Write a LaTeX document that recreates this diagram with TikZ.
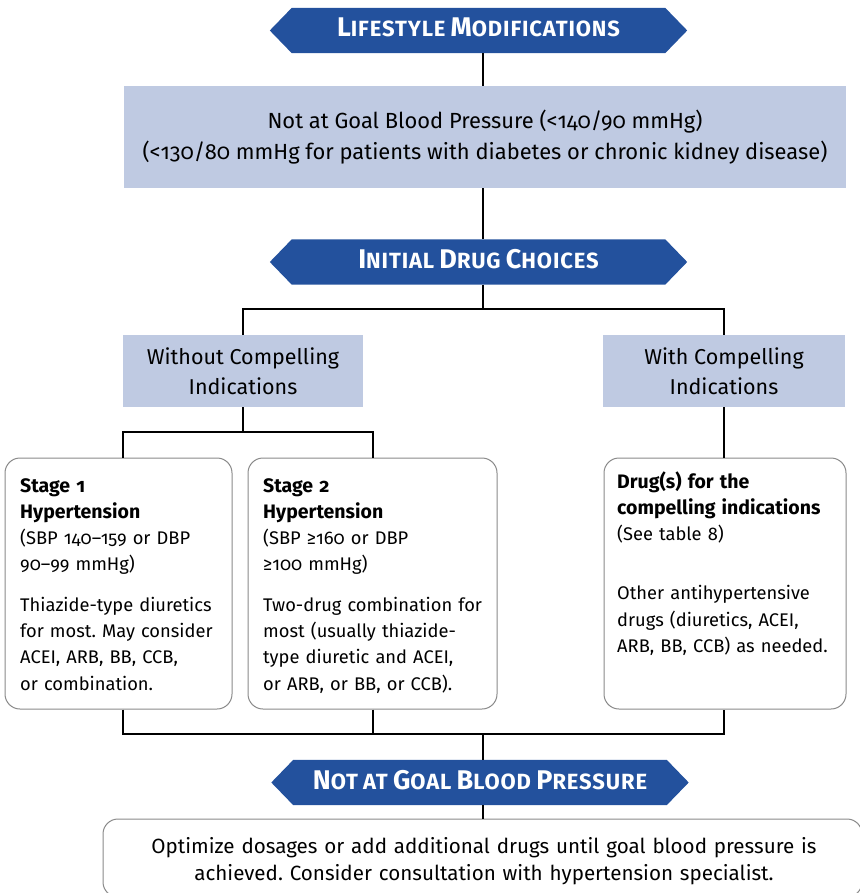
\documentclass[tikz,border=0pt]{standalone}
\usepackage{fontspec}
\setmainfont{Fira Sans}[Numbers=OldStyle]
\frenchspacing
\definecolor{banblue}{HTML}{23519D}
\definecolor{boxfill}{HTML}{BFCAE2}
\definecolor{rbord}{HTML}{8A8A8A}
\newcommand{\bancap}[2]{{\fontsize{27}{27}\selectfont\addfontfeatures{LetterSpace=4}#1}{\fontsize{22}{22}\selectfont\addfontfeatures{LetterSpace=4}#2}}
\newcommand{\bb}[1]{{\fontsize{19.5}{26.3}\selectfont\bfseries #1}}
\newcommand{\drawbanner}[4]{%
  \node[banbox] (#1) at (#2,#3) {};
  \fill[banblue] (#1.west) -- ([xshift=22pt]#1.north west) -- ([xshift=-22pt]#1.north east)
     -- (#1.east) -- ([xshift=-22pt]#1.south east) -- ([xshift=22pt]#1.south west) -- cycle;
  \node[bantext] (#1t) at ([yshift=-6.5pt]#1.center) {#4};
}
\begin{document}
\begin{tikzpicture}[x=1pt,y=-1pt,
  conn/.style={draw=black,line width=1.2pt},
  banbox/.style={inner sep=0pt,minimum width=417pt,minimum height=45pt},
  bantext/.style={text=white,font=\bfseries\fontsize{22}{22}\selectfont,inner sep=0pt,anchor=base},
  bluebox/.style={fill=boxfill,inner sep=0pt,align=center},
  roundbox/.style={draw=rbord,line width=1pt,rounded corners=15pt,fill=white,inner sep=0pt},
  boxtext/.style={anchor=base west,inner sep=0pt,align=left,font=\fontsize{18.3}{26.3}\selectfont}
]
\useasboundingbox (0,0) rectangle (859,893);
\coordinate (cx) at (483,0);
\coordinate (lx) at (243,0);
\coordinate (rx) at (724,0);
\coordinate (s1x) at (123,0);
\coordinate (s2x) at (373,0);

% banners
\drawbanner{ban1}{478.5}{30.5}{\bancap{L}{IFESTYLE} \bancap{M}{ODIFICATIONS}}
\drawbanner{ban2}{478.5}{262}{\bancap{I}{NITIAL} \bancap{D}{RUG} \bancap{C}{HOICES}}
\drawbanner{ban3}{480}{782.5}{\bancap{N}{OT} \bancap{}{AT} \bancap{G}{OAL} \bancap{B}{LOOD} \bancap{P}{RESSURE}}

% blue boxes
\node[bluebox,font=\fontsize{21.9}{31}\selectfont,minimum width=722pt,minimum height=102pt] (goal) at (485,137)
  {Not at Goal Blood Pressure (<140/90 mmHg)\\(<130/80 mmHg for patients with diabetes or chronic kidney disease)};
\node[bluebox,font=\fontsize{21.5}{29.5}\selectfont,minimum width=240pt,minimum height=72pt] (without) at (243,371)
  {Without Compelling\\Indications};
\node[bluebox,font=\fontsize{21.5}{29.5}\selectfont,minimum width=242pt,minimum height=72pt] (with) at (724,371)
  {With Compelling\\Indications};

% rounded boxes
\node[roundbox,minimum width=227pt,minimum height=251pt] (s1) at (118.5,583.5) {};
\node[roundbox,minimum width=249pt,minimum height=251pt] (s2) at (372.5,583.5) {};
\node[roundbox,minimum width=242pt,minimum height=251pt] (r) at (725,583.5) {};
\node[roundbox,minimum width=759pt,minimum height=78pt] (final) at (482.5,858) {};

\node[boxtext,text width=215pt] (s1t) at (20,492)
  {\bb{Stage 1}\\\bb{Hypertension}\\(SBP 140–159 or DBP\\90–99 mmHg)\\[14pt]Thiazide-type diuretics\\for most. May consider\\ACEI, ARB, BB, CCB,\\or combination.};
\node[boxtext,text width=235pt] (s2t) at (263,492)
  {\bb{Stage 2}\\\bb{Hypertension}\\(SBP ≥160 or DBP\\≥100 mmHg)\\[14pt]Two-drug combination for\\most (usually thiazide-\\type diuretic and ACEI,\\or ARB, or BB, or CCB).};
\node[boxtext,text width=230pt] (rt) at (617,488)
  {\bb{Drug(s) for the}\\\bb{compelling indications}\\(See table 8)\\[33pt]Other antihypertensive\\drugs (diuretics, ACEI,\\ARB, BB, CCB) as needed.};
\node[anchor=base,inner sep=0pt,text width=750pt,align=center,font=\fontsize{20.6}{27}\selectfont] (ft) at (484,853)
  {Optimize dosages or add additional drugs until goal blood pressure is\\achieved. Consider consultation with hypertension specialist.};

% connectors
\draw[conn] (ban1.south -| cx) -- (goal.north -| cx);
\draw[conn] (goal.south -| cx) -- (ban2.north -| cx);
\draw[conn] (ban2.south -| cx) -- (483,309);
\draw[conn] (without.north) -- (243,309) -- (724,309) -- (with.north -| rx);
\draw[conn] (without.south) -- (243,432);
\draw[conn] (s1.north -| s1x) -- (123,432) -- (373,432) -- (s2.north -| s2x);
\draw[conn] (with.south -| rx) -- (r.north -| rx);
\draw[conn] (s1.south -| s1x) -- (123,734) -- (724,734) -- (r.south -| rx);
\draw[conn] (s2.south -| s2x) -- (373,734);
\draw[conn] (483,734) -- (ban3.north -| cx);
\draw[conn] (ban3.south -| cx) -- (final.north -| cx);
\end{tikzpicture}
\end{document}
